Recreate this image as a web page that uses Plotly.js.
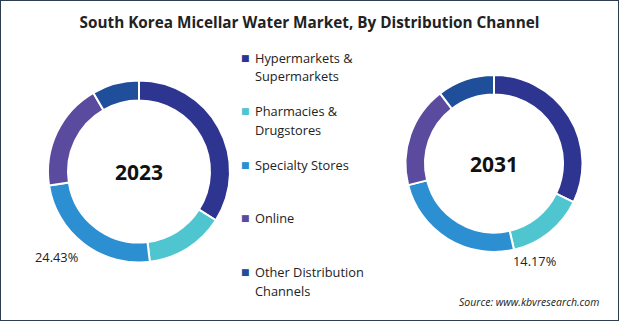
<!DOCTYPE html>
<html>
<head>
<meta charset="utf-8">
<script src="https://cdn.plot.ly/plotly-3.0.1.min.js"></script>
<style>html,body{margin:0;padding:0;background:#fff;}#chart{width:619px;height:321px;}</style>
</head>
<body>
<div id="chart"></div>
<script>
const categories = ['Hypermarkets & Supermarkets','Pharmacies & Drugstores','Specialty Stores','Online','Other Distribution Channels'];
const legendLabels = ['Hypermarkets &<br>Supermarkets','Pharmacies &<br>Drugstores','Specialty Stores','Online','Other Distribution<br>Channels'];
const years = ['2023','2031'];
const share2023 = [34.0, 14.1, 24.43, 19.1, 8.37];
const share2031 = [32.2, 14.17, 24.7, 18.5, 10.43];
const colors = ['#2d3590','#4fc5d0','#2b8fd1','#5b4b9f','#1f4f9b'];
const labeledSlice = [2, 1]; // index of slice whose share is printed, per year

const W = 619, H = 321;
const px = x => x / W;
const py = y => 1 - y / H;

const F = '"Open Sans", "Noto Sans", sans-serif';

const pieGeom = [
  {cx: 139, cy: 171.5, r: 91},
  {cx: 494, cy: 163.5, r: 88.5}
];
const shares = [share2023, share2031];

const data = shares.map((vals, i) => {
  const g = pieGeom[i];
  return {
    type: 'pie',
    labels: categories,
    values: vals,
    sort: false,
    direction: 'clockwise',
    rotation: 0,
    hole: 0.78,
    textinfo: 'none',
    showlegend: false,
    marker: {colors: colors, line: {color: '#ffffff', width: 2}},
    domain: {x: [px(g.cx - g.r), px(g.cx + g.r)], y: [py(g.cy + g.r), py(g.cy - g.r)]}
  };
});

const annotations = [];
// year labels in centers
years.forEach((yr, i) => {
  const g = pieGeom[i];
  annotations.push({xref: 'paper', yref: 'paper', x: px(g.cx), y: py(g.cy), text: '<b>' + yr + '</b>',
    showarrow: false, font: {family: F, size: 21, color: '#111'}, xanchor: 'center', yanchor: 'middle'});
});
// percentage labels
const pctPos = [{x: 56.5, y: 257}, {x: 534, y: 261}];
shares.forEach((vals, i) => {
  annotations.push({xref: 'paper', yref: 'paper', x: px(pctPos[i].x), y: py(pctPos[i].y),
    text: vals[labeledSlice[i]].toFixed(2) + '%', showarrow: false,
    font: {family: F, size: 12.8, color: '#222'}, xanchor: 'center', yanchor: 'middle'});
});
// legend
const legendY = [58, 111, 165, 218, 272];
const lineGap = 18.5;
legendLabels.forEach((lab, i) => {
  annotations.push({xref: 'paper', yref: 'paper', x: px(245.5), y: py(legendY[i]), text: '■',
    showarrow: false, font: {family: 'DejaVu Sans', size: 9, color: colors[i]}, xanchor: 'center', yanchor: 'middle'});
  lab.split('<br>').forEach((line, j) => {
    annotations.push({xref: 'paper', yref: 'paper', x: px(253), y: py(legendY[i] + j * lineGap), text: line,
      showarrow: false, align: 'left', font: {family: F, size: 12.8, color: '#222'}, xanchor: 'left', yanchor: 'middle'});
  });
});
// source
annotations.push({xref: 'paper', yref: 'paper', x: px(601), y: py(302), text: '<i>Source: www.kbvresearch.com</i>',
  showarrow: false, font: {family: F, size: 10.5, color: '#222'}, xanchor: 'right', yanchor: 'middle'});

const layout = {
  width: W, height: H,
  margin: {l: 0, r: 0, t: 0, b: 0},
  paper_bgcolor: '#ffffff',
  title: {text: '<b>South Korea Micellar Water Market, By Distribution Channel</b>',
    font: {family: F, size: 15.3, color: '#222'}, x: 0.5, xanchor: 'center', y: py(23), yanchor: 'middle', yref: 'paper'},
  annotations: annotations,
  shapes: [{type: 'rect', xref: 'paper', yref: 'paper', x0: 0, x1: 1, y0: 0, y1: 1,
    line: {color: '#2e3d4d', width: 2}, fillcolor: 'rgba(0,0,0,0)'}]
};

Plotly.newPlot('chart', data, layout, {displayModeBar: false, staticPlot: true});
</script>
</body>
</html>
